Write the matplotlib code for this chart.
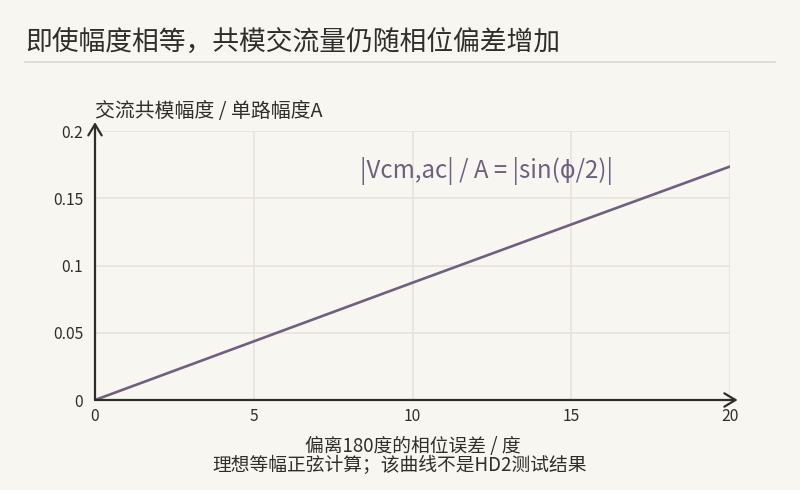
import matplotlib
matplotlib.use("Agg")
import matplotlib.pyplot as plt

plt.rcParams['font.family'] = ['Noto Sans CJK SC', 'DejaVu Sans']

# Data
phase_err_deg = [0, 5, 10, 15, 20]
vcm_ratio = [0.0, 0.0436, 0.0872, 0.1305, 0.1736]
xticks = [0, 5, 10, 15, 20]
xtick_labels = ["0", "5", "10", "15", "20"]
yticks = [0, 0.05, 0.1, 0.15, 0.2]
ytick_labels = ["0", "0.05", "0.1", "0.15", "0.2"]

title = "即使幅度相等，共模交流量仍随相位偏差增加"
ylabel = "交流共模幅度 / 单路幅度A"
xlabel_1 = "偏离180度的相位误差 / 度"
xlabel_2 = "理想等幅正弦计算；该曲线不是HD2测试结果"
formula = "|Vcm,ac| / A = |sin(ϕ/2)|"

bg = "#f8f6f1"
line_c = "#6f6080"
grid_c = "#e8e2da"
ink = "#2e2e2a"

W, H = 800, 490
fig = plt.figure(figsize=(8, 4.9), dpi=100, facecolor=bg)
ax = fig.add_axes([95 / W, 1 - 400 / H, 635 / W, 269 / H])
ax.set_facecolor(bg)

ax.plot(phase_err_deg, vcm_ratio, color=line_c, lw=1.9, solid_capstyle='round', zorder=3)

ax.set_xlim(0, 20)
ax.set_ylim(0, 0.2)
ax.set_xticks(xticks)
ax.set_xticklabels(xtick_labels)
ax.set_yticks(yticks)
ax.set_yticklabels(ytick_labels)
ax.tick_params(axis='y', length=0, labelsize=11.3, colors=ink, pad=8.5)
ax.tick_params(axis='x', length=0, labelsize=11.3, colors=ink, pad=6)
ax.grid(True, color=grid_c, lw=1.2)
for s in ax.spines.values():
    s.set_visible(False)

# axes with arrows
ax.annotate("", xy=(1.012, 0), xytext=(0, 0), xycoords='axes fraction',
            arrowprops=dict(arrowstyle='->,head_length=0.5,head_width=0.3', color=ink,
                            lw=1.6, mutation_scale=16, shrinkA=0, shrinkB=0),
            annotation_clip=False, zorder=5)
ax.annotate("", xy=(0, 1.033), xytext=(0, 0), xycoords='axes fraction',
            arrowprops=dict(arrowstyle='->,head_length=0.5,head_width=0.3', color=ink,
                            lw=1.6, mutation_scale=16, shrinkA=0, shrinkB=0),
            annotation_clip=False, zorder=5)

ax.text(0.617, 0.853, formula, transform=ax.transAxes, ha='center', va='center',
        fontsize=17.3, color=line_c)

fig.text(25 / W, 1 - 42 / H, title, ha='left', va='center', fontsize=19.3, color=ink)
fig.add_artist(plt.Line2D([25 / W, 775 / W], [1 - 62 / H, 1 - 62 / H],
                          transform=fig.transFigure, color="#dedad3", lw=1.3))
fig.text(95 / W, 1 - 112 / H, ylabel, ha='left', va='center', fontsize=14.3, color=ink)
fig.text(413 / W, 1 - 446 / H, xlabel_1, ha='center', va='center', fontsize=13.5, color=ink)
fig.text(400 / W, 1 - 465 / H, xlabel_2, ha='center', va='center', fontsize=13.5, color=ink)

fig.savefig("out.png", dpi=100, facecolor=bg)
